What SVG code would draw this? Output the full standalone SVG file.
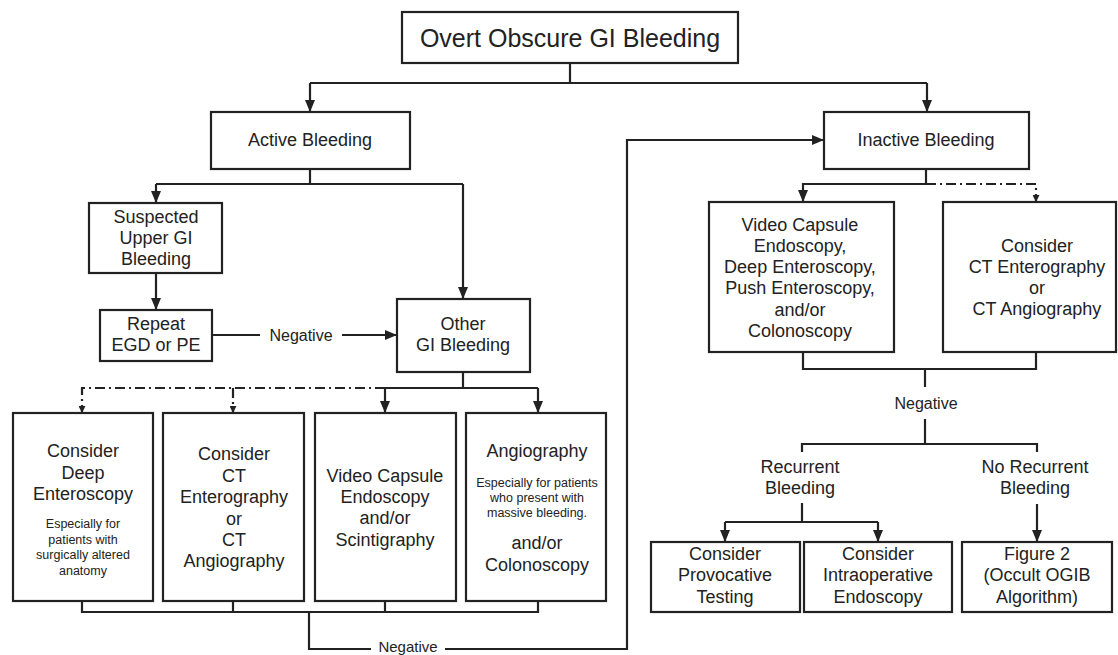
<svg xmlns="http://www.w3.org/2000/svg" width="1118" height="655" viewBox="0 0 1118 655">
<style>
  .box{fill:#fff;stroke:#222;stroke-width:2.2}
  .t{font-family:"Liberation Sans",Arial,sans-serif;font-size:18px;fill:#222;text-anchor:middle}
  .n{font-family:"Liberation Sans",Arial,sans-serif;font-size:16px;fill:#222;text-anchor:middle}
  .s{font-family:"Liberation Sans",Arial,sans-serif;font-size:12.5px;fill:#222;text-anchor:middle}
  .ti{font-family:"Liberation Sans",Arial,sans-serif;font-size:25px;fill:#222;text-anchor:middle}
  .ln{fill:none;stroke:#222;stroke-width:2.2}
  .dd{fill:none;stroke:#222;stroke-width:2.2;stroke-dasharray:10 4 2 4}
</style>
<defs>
  <marker id="ah" viewBox="0 0 12 10" markerWidth="12" markerHeight="10" refX="12" refY="5" orient="auto" markerUnits="userSpaceOnUse">
    <path d="M0,0 L12,5 L0,10 Z" fill="#222"/>
  </marker>
  <marker id="ahs" viewBox="0 0 7 7" markerWidth="7" markerHeight="7" refX="7" refY="3.5" orient="auto" markerUnits="userSpaceOnUse">
    <path d="M0,0 L7,3.5 L0,7 Z" fill="#222"/>
  </marker>
</defs>
<rect width="1118" height="655" fill="#fff"/>

<g id="connectors">
  <path class="ln" d="M570,63 V83 M310,83 H927"/>
  <path class="ln" d="M310,83 V112" marker-end="url(#ah)"/>
  <path class="ln" d="M927,83 V112" marker-end="url(#ah)"/>
  <path class="ln" d="M310,169 V184 M156,184 H463"/>
  <path class="ln" d="M156,184 V203" marker-end="url(#ah)"/>
  <path class="ln" d="M463,184 V299" marker-end="url(#ah)"/>
  <path class="ln" d="M156,273 V310" marker-end="url(#ah)"/>
  <path class="ln" d="M212,335 H260"/>
  <path class="ln" d="M342,335 H397" marker-end="url(#ah)"/>
  <text class="n" x="301" y="341">Negative</text>
  <path class="ln" d="M463,372 V388 M385,388 H538"/>
  <path class="ln" d="M385,388 V413" marker-end="url(#ah)"/>
  <path class="ln" d="M538,388 V413" marker-end="url(#ah)"/>
  <path class="dd" d="M385,388 H82 V413" marker-end="url(#ahs)"/>
  <path class="dd" d="M233,388 V413" marker-end="url(#ahs)"/>
  <path class="ln" d="M82,601 V612 H538 V601 M233,601 V612 M385,601 V612"/>
  <path class="ln" d="M309,612 V649 H371 M445,649 H627 V140 H824" marker-end="url(#ah)"/>
  <text class="n" x="408" y="652" style="font-size:15px">Negative</text>
  <path class="ln" d="M926,169 V184 H803 V202" marker-end="url(#ah)"/>
  <path class="dd" d="M926,184 H1036 V202" marker-end="url(#ahs)"/>
  <path class="ln" d="M803,352 V369 H1036 V352 M925,369 V387"/>
  <text class="n" x="926" y="409">Negative</text>
  <path class="ln" d="M925,419 V444 M802,452 V444 H1037 V452"/>
  <path class="ln" d="M802,503 V522 M725,522 H878"/>
  <path class="ln" d="M725,522 V542" marker-end="url(#ah)"/>
  <path class="ln" d="M878,522 V542" marker-end="url(#ah)"/>
  <path class="ln" d="M1037,504 V542" marker-end="url(#ah)"/>
</g>

<g id="title">
  <rect class="box" x="402" y="12" width="336" height="51"/>
  <text class="ti" x="570" y="47">Overt Obscure GI Bleeding</text>
</g>
<g id="active">
  <rect class="box" x="211" y="112" width="199" height="57"/>
  <text class="t" x="310" y="146">Active Bleeding</text>
</g>
<g id="inactive">
  <rect class="box" x="824" y="112" width="205" height="57"/>
  <text class="t" x="926" y="146">Inactive Bleeding</text>
</g>
<g id="suspected">
  <rect class="box" x="89" y="203" width="133" height="70"/>
  <text class="t" x="156" y="223">Suspected</text>
  <text class="t" x="156" y="244">Upper GI</text>
  <text class="t" x="156" y="265">Bleeding</text>
</g>
<g id="repeat">
  <rect class="box" x="100" y="310" width="112" height="51"/>
  <text class="t" x="156" y="330">Repeat</text>
  <text class="t" x="156" y="351">EGD or PE</text>
</g>
<g id="other">
  <rect class="box" x="397" y="299" width="133" height="73"/>
  <text class="t" x="463" y="330">Other</text>
  <text class="t" x="463" y="351">GI Bleeding</text>
</g>
<g id="deep">
  <rect class="box" x="13" y="413" width="140" height="188"/>
  <text class="t" x="83" y="457">Consider</text>
  <text class="t" x="83" y="479">Deep</text>
  <text class="t" x="83" y="500">Enteroscopy</text>
  <text class="s" x="83" y="528">Especially for</text>
  <text class="s" x="83" y="544">patients with</text>
  <text class="s" x="83" y="559">surgically altered</text>
  <text class="s" x="83" y="575">anatomy</text>
</g>
<g id="ctleft">
  <rect class="box" x="163" y="413" width="141" height="188"/>
  <text class="t" x="234" y="460">Consider</text>
  <text class="t" x="234" y="482">CT</text>
  <text class="t" x="234" y="503">Enterography</text>
  <text class="t" x="234" y="525">or</text>
  <text class="t" x="234" y="546">CT</text>
  <text class="t" x="234" y="567">Angiography</text>
</g>
<g id="vce">
  <rect class="box" x="315" y="413" width="141" height="188"/>
  <text class="t" x="385" y="482">Video Capsule</text>
  <text class="t" x="385" y="503">Endoscopy</text>
  <text class="t" x="385" y="524">and/or</text>
  <text class="t" x="385" y="546">Scintigraphy</text>
</g>
<g id="angio">
  <rect class="box" x="466" y="413" width="140" height="188"/>
  <text class="t" x="537" y="457">Angiography</text>
  <text class="s" x="537" y="487">Especially for patients</text>
  <text class="s" x="537" y="502">who present with</text>
  <text class="s" x="537" y="517">massive bleeding.</text>
  <text class="t" x="537" y="549">and/or</text>
  <text class="t" x="537" y="571">Colonoscopy</text>
</g>
<g id="videoright">
  <rect class="box" x="709" y="202" width="185" height="150"/>
  <text class="t" x="800" y="231">Video Capsule</text>
  <text class="t" x="800" y="252">Endoscopy,</text>
  <text class="t" x="800" y="273">Deep Enteroscopy,</text>
  <text class="t" x="800" y="294">Push Enteroscopy,</text>
  <text class="t" x="800" y="316">and/or</text>
  <text class="t" x="800" y="337">Colonoscopy</text>
</g>
<g id="ctright">
  <rect class="box" x="943" y="202" width="173" height="150"/>
  <text class="t" x="1037" y="252">Consider</text>
  <text class="t" x="1037" y="273">CT Enterography</text>
  <text class="t" x="1037" y="294">or</text>
  <text class="t" x="1037" y="315">CT Angiography</text>
</g>
<g id="recurrent">
  <text class="t" x="800" y="473">Recurrent</text>
  <text class="t" x="800" y="494">Bleeding</text>
</g>
<g id="norecurrent">
  <text class="t" x="1035" y="473">No Recurrent</text>
  <text class="t" x="1035" y="494">Bleeding</text>
</g>
<g id="provocative">
  <rect class="box" x="651" y="542" width="149" height="70"/>
  <text class="t" x="725" y="560">Consider</text>
  <text class="t" x="725" y="581">Provocative</text>
  <text class="t" x="725" y="603">Testing</text>
</g>
<g id="intraop">
  <rect class="box" x="804" y="542" width="148" height="70"/>
  <text class="t" x="878" y="560">Consider</text>
  <text class="t" x="878" y="581">Intraoperative</text>
  <text class="t" x="878" y="603">Endoscopy</text>
</g>
<g id="figure2">
  <rect class="box" x="962" y="542" width="150" height="70"/>
  <text class="t" x="1037" y="560">Figure 2</text>
  <text class="t" x="1037" y="581">(Occult OGIB</text>
  <text class="t" x="1037" y="603">Algorithm)</text>
</g>
</svg>
